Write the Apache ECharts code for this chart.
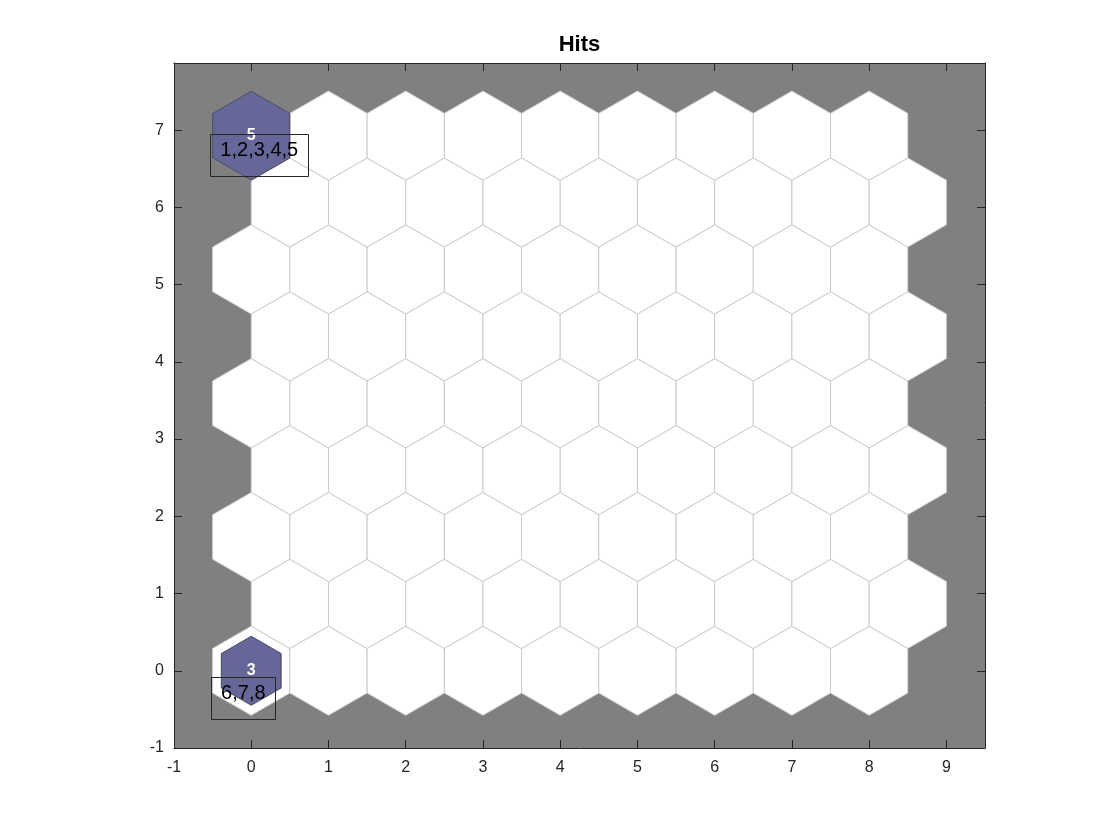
<!DOCTYPE html>
<html>
<head>
<meta charset="utf-8">
<script src="https://cdn.jsdelivr.net/npm/echarts@6/dist/echarts.min.js"></script>
<style>html,body{margin:0;padding:0;background:#fff;}#chart{width:1120px;height:840px;}</style>
</head>
<body>
<div id="chart"></div>
<script>
// ---- data ----
const titleText = 'Hits';
const gridCols = 9;
const gridRows = 9;
// hits per neuron, row 0 = bottom row, column 0 = leftmost
const hitsRows = [
  [3,0,0,0,0,0,0,0,0],
  [0,0,0,0,0,0,0,0,0],
  [0,0,0,0,0,0,0,0,0],
  [0,0,0,0,0,0,0,0,0],
  [0,0,0,0,0,0,0,0,0],
  [0,0,0,0,0,0,0,0,0],
  [0,0,0,0,0,0,0,0,0],
  [0,0,0,0,0,0,0,0,0],
  [5,0,0,0,0,0,0,0,0]
];
const labelTexts = ['1,2,3,4,5', '6,7,8'];
const labelX = [-0.40, -0.39];
const labelY = [6.73, -0.295];
const xTicks = [-1,0,1,2,3,4,5,6,7,8,9];
const yTicks = [-1,0,1,2,3,4,5,6,7];

// ---- build ----
const FONT = '"Liberation Sans", Arial, Helvetica, sans-serif';
const ROW_H = Math.sqrt(3) / 2;
const hexData = [];
const hitData = [];
let maxHits = 0;
for (let r = 0; r < gridRows; r++) {
  for (let c = 0; c < gridCols; c++) {
    const x = c + (r % 2) * 0.5;
    const y = r * ROW_H;
    hexData.push([x, y]);
    const h = hitsRows[r][c];
    if (h > maxHits) maxHits = h;
    if (h > 0) hitData.push([x, y, h]);
  }
}
const labelData = labelTexts.map((t, i) => [labelX[i], labelY[i], t]);

const gridLeft = 174, gridTop = 63, gridW = 811, gridH = 685;
const xMin = -1, xMax = 9.5;
const yMin = -1;
const yMax = yMin + gridH / (gridW / (xMax - xMin)); // equal aspect

const LABEL_FONT = '20px ' + FONT;
const measureCtx = document.createElement('canvas').getContext('2d');
function textWidth(t, font) { measureCtx.font = font; return measureCtx.measureText(t).width; }

function hexPoints(cx, cy, rad) {
  const pts = [];
  for (let k = 0; k < 6; k++) {
    const a = Math.PI / 2 + k * Math.PI / 3;
    pts.push([cx + rad * Math.cos(a), cy - rad * Math.sin(a)]);
  }
  return pts;
}

const chart = echarts.init(document.getElementById('chart'), null, {renderer: 'canvas'});
const tickLabelStyle = {color: '#262626', fontSize: 16, fontFamily: FONT};
const option = {
  animation: false,
  backgroundColor: '#ffffff',
  graphic: [{
    type: 'text', x: gridLeft + gridW / 2, y: 45, z: 100,
    style: {text: titleText, align: 'center', verticalAlign: 'middle',
            font: 'bold 22px ' + FONT, fill: '#000'}
  }],
  grid: {left: gridLeft, top: gridTop, width: gridW, height: gridH,
         show: true, backgroundColor: '#808080', borderWidth: 0},
  xAxis: [{
    type: 'value', min: xMin, max: xMax, position: 'bottom',
    splitLine: {show: false},
    axisLine: {show: true, onZero: false, lineStyle: {color: '#262626', width: 1}},
    axisTick: {show: true, inside: true, length: 8, customValues: xTicks, lineStyle: {color: '#262626'}},
    axisLabel: Object.assign({customValues: xTicks, margin: 12}, tickLabelStyle)
  }, {
    type: 'value', min: xMin, max: xMax, position: 'top',
    splitLine: {show: false},
    axisLine: {show: true, onZero: false, lineStyle: {color: '#262626', width: 1}},
    axisTick: {show: true, inside: true, length: 8, customValues: xTicks, lineStyle: {color: '#262626'}},
    axisLabel: {show: false}
  }],
  yAxis: [{
    type: 'value', min: yMin, max: yMax, position: 'left',
    splitLine: {show: false},
    axisLine: {show: true, onZero: false, lineStyle: {color: '#262626', width: 1}},
    axisTick: {show: true, inside: true, length: 8, customValues: yTicks, lineStyle: {color: '#262626'}},
    axisLabel: Object.assign({customValues: yTicks, margin: 10}, tickLabelStyle)
  }, {
    type: 'value', min: yMin, max: yMax, position: 'right',
    splitLine: {show: false},
    axisLine: {show: true, onZero: false, lineStyle: {color: '#262626', width: 1}},
    axisTick: {show: true, inside: true, length: 8, customValues: yTicks, lineStyle: {color: '#262626'}},
    axisLabel: {show: false}
  }],
  series: [{
    type: 'custom', name: 'neurons', xAxisIndex: 0, yAxisIndex: 0, z: 2,
    data: hexData,
    renderItem: function (params, api) {
      const c = api.coord([api.value(0), api.value(1)]);
      const s = api.size([1, 1]);
      const rad = s[0] / Math.sqrt(3);
      return {type: 'polygon', shape: {points: hexPoints(c[0], c[1], rad)},
              style: {fill: '#ffffff', stroke: '#cccccc', lineWidth: 1}};
    }
  }, {
    type: 'custom', name: 'hits', xAxisIndex: 0, yAxisIndex: 0, z: 3,
    data: hitData,
    renderItem: function (params, api) {
      const c = api.coord([api.value(0), api.value(1)]);
      const s = api.size([1, 1]);
      const h = api.value(2);
      const rad = s[0] / Math.sqrt(3) * Math.sqrt(h / maxHits);
      return {type: 'group', children: [
        {type: 'polygon', shape: {points: hexPoints(c[0], c[1], rad)},
         style: {fill: '#666699', stroke: '#333344', lineWidth: 0.8}},
        {type: 'text', x: c[0], y: c[1], z2: 5,
         style: {text: String(h), align: 'center', verticalAlign: 'middle',
                 font: 'bold 16px ' + FONT, fill: '#ffffff'}}
      ]};
    }
  }, {
    type: 'custom', name: 'labels', xAxisIndex: 0, yAxisIndex: 0, z: 4,
    data: labelData,
    renderItem: function (params, api) {
      const c = api.coord([api.value(0), api.value(1)]);
      const t = labelData[params.dataIndex][2];
      const w = textWidth(t, LABEL_FONT);
      return {type: 'group', children: [
        {type: 'rect', shape: {x: Math.round(c[0] - 10.5) + 0.5, y: Math.round(c[1] - 16.5) + 0.5,
                               width: Math.round(w + 20), height: 42},
         style: {fill: 'none', stroke: '#262626', lineWidth: 1}},
        {type: 'text', x: c[0], y: c[1], z2: 5,
         style: {text: t, align: 'left', verticalAlign: 'middle',
                 font: LABEL_FONT, fill: '#000000'}}
      ]};
    }
  }]
};
chart.setOption(option);
</script>
</body>
</html>
